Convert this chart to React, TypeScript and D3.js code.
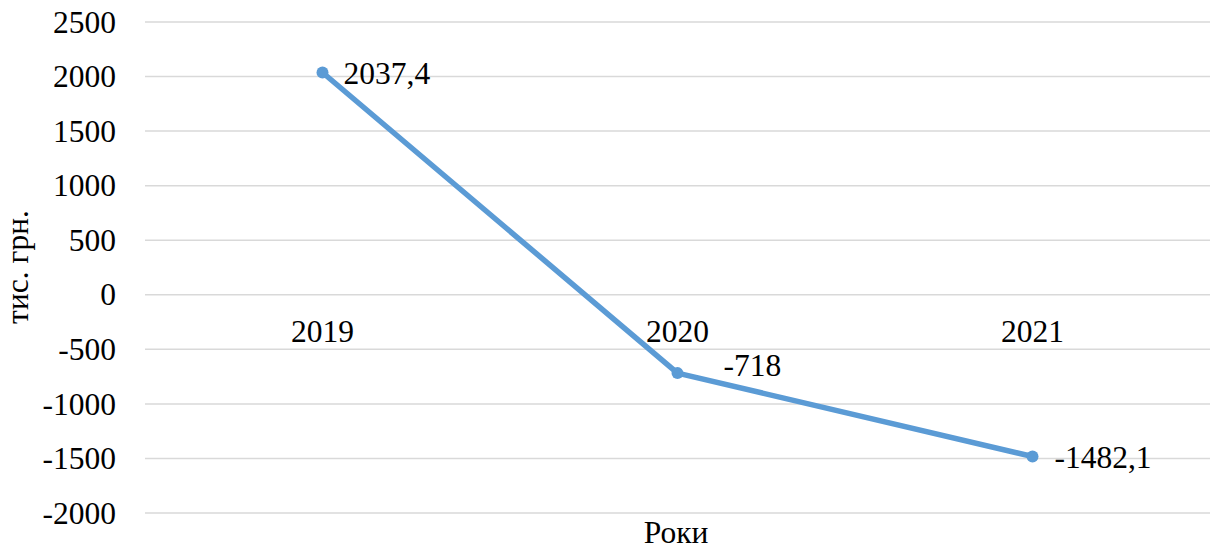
import React from "react";
import * as d3 from "d3";

// Фінансовий результат за роками, тис. грн.
const years: string[] = ["2019", "2020", "2021"];
const values: number[] = [2037.4, -718, -1482.1];
const valueLabels: string[] = ["2037,4", "-718", "-1482,1"];
const yTicks: number[] = [2500, 2000, 1500, 1000, 500, 0, -500, -1000, -1500, -2000];

const W = 1217;
const H = 550;
const FONT = "'Liberation Serif', 'Times New Roman', serif";
const FS = 31.5;
const LINE = "#5B9BD5";
const GRID = "#D9D9D9";

// nudges for data labels so they clear the line
const labelDx: number[] = [21, 46, 22];
const labelDy: number[] = [1, -8, 1];

export default function App() {
  const x = d3.scaleBand<string>().domain(years).range([145, 1210]);
  const y = d3.scaleLinear().domain([-2000, 2500]).range([513, 22]);
  const cx = (c: string) => (x(c) ?? 0) + x.bandwidth() / 2;

  const line = d3
    .line<number>()
    .x((_, i) => cx(years[i]))
    .y((v) => y(v));

  const txt: React.CSSProperties = { fontFamily: FONT, fontSize: FS };

  return (
    <div style={{ position: "fixed", left: 0, top: 0 }}>
      <svg width={W} height={H} style={{ display: "block", background: "#fff" }}>
        {yTicks.map((t) => (
          <g key={t}>
            <line x1={145} x2={1210} y1={y(t)} y2={y(t)} stroke={GRID} strokeWidth={1.5} />
            <text x={116} y={y(t)} dy="0.34em" textAnchor="end" fill="#000" style={txt}>
              {t}
            </text>
          </g>
        ))}

        {years.map((c) => (
          <text key={c} x={cx(c)} y={y(0) + 47} textAnchor="middle" fill="#000" style={txt}>
            {c}
          </text>
        ))}

        <path d={line(values) ?? ""} fill="none" stroke={LINE} strokeWidth={5.5} strokeLinejoin="round" />
        {values.map((v, i) => (
          <circle key={i} cx={cx(years[i])} cy={y(v)} r={6} fill={LINE} />
        ))}
        {values.map((v, i) => (
          <text
            key={i}
            x={cx(years[i]) + labelDx[i]}
            y={y(v) + labelDy[i]}
            dy="0.34em"
            fill="#000"
            style={txt}
          >
            {valueLabels[i]}
          </text>
        ))}

        <text x={676} y={543} textAnchor="middle" fill="#000" style={txt}>
          Роки
        </text>
        <text transform={`translate(28, 267) rotate(-90)`} textAnchor="middle" fill="#000" style={txt}>
          тис. грн.
        </text>
      </svg>
    </div>
  );
}
